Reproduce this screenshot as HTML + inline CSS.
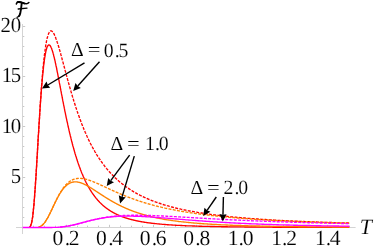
<!DOCTYPE html>
<html><head><meta charset="utf-8"><title>plot</title>
<style>
html,body{margin:0;padding:0;background:#fff;}
body{width:374px;height:251px;overflow:hidden;}
svg{display:block;will-change:transform;}
text{font-family:"Liberation Serif",serif;fill:#000;text-rendering:geometricPrecision;stroke:#fff;stroke-width:0.12px;paint-order:fill stroke;}
</style></head><body>
<svg width="374" height="251" viewBox="0 0 374 251">
<rect width="374" height="251" fill="#fff"/>
<g stroke="#d4d4d4" stroke-width="1" fill="none"><line x1="16" y1="227.5" x2="355.6" y2="227.5"/><line x1="22.5" y1="24" x2="22.5" y2="234"/></g><g stroke="#c8c8c8" stroke-width="1" fill="none"><line x1="33.50" y1="227" x2="33.50" y2="225.70"/><line x1="44.50" y1="227" x2="44.50" y2="225.70"/><line x1="55.50" y1="227" x2="55.50" y2="225.70"/><line x1="66.50" y1="227" x2="66.50" y2="224.80"/><line x1="77.50" y1="227" x2="77.50" y2="225.70"/><line x1="87.50" y1="227" x2="87.50" y2="225.70"/><line x1="98.50" y1="227" x2="98.50" y2="225.70"/><line x1="109.50" y1="227" x2="109.50" y2="224.80"/><line x1="120.50" y1="227" x2="120.50" y2="225.70"/><line x1="131.50" y1="227" x2="131.50" y2="225.70"/><line x1="142.50" y1="227" x2="142.50" y2="225.70"/><line x1="153.50" y1="227" x2="153.50" y2="224.80"/><line x1="164.50" y1="227" x2="164.50" y2="225.70"/><line x1="175.50" y1="227" x2="175.50" y2="225.70"/><line x1="185.50" y1="227" x2="185.50" y2="225.70"/><line x1="196.50" y1="227" x2="196.50" y2="224.80"/><line x1="207.50" y1="227" x2="207.50" y2="225.70"/><line x1="218.50" y1="227" x2="218.50" y2="225.70"/><line x1="229.50" y1="227" x2="229.50" y2="225.70"/><line x1="240.50" y1="227" x2="240.50" y2="224.80"/><line x1="251.50" y1="227" x2="251.50" y2="225.70"/><line x1="262.50" y1="227" x2="262.50" y2="225.70"/><line x1="273.50" y1="227" x2="273.50" y2="225.70"/><line x1="283.50" y1="227" x2="283.50" y2="224.80"/><line x1="294.50" y1="227" x2="294.50" y2="225.70"/><line x1="305.50" y1="227" x2="305.50" y2="225.70"/><line x1="316.50" y1="227" x2="316.50" y2="225.70"/><line x1="327.50" y1="227" x2="327.50" y2="224.80"/><line x1="338.50" y1="227" x2="338.50" y2="225.70"/><line x1="349.50" y1="227" x2="349.50" y2="225.70"/><line x1="23" y1="217.50" x2="24.30" y2="217.50"/><line x1="23" y1="207.50" x2="24.30" y2="207.50"/><line x1="23" y1="197.50" x2="24.30" y2="197.50"/><line x1="23" y1="187.50" x2="24.30" y2="187.50"/><line x1="23" y1="177.50" x2="25.20" y2="177.50"/><line x1="23" y1="167.50" x2="24.30" y2="167.50"/><line x1="23" y1="157.50" x2="24.30" y2="157.50"/><line x1="23" y1="146.50" x2="24.30" y2="146.50"/><line x1="23" y1="136.50" x2="24.30" y2="136.50"/><line x1="23" y1="126.50" x2="25.20" y2="126.50"/><line x1="23" y1="116.50" x2="24.30" y2="116.50"/><line x1="23" y1="106.50" x2="24.30" y2="106.50"/><line x1="23" y1="96.50" x2="24.30" y2="96.50"/><line x1="23" y1="86.50" x2="24.30" y2="86.50"/><line x1="23" y1="76.50" x2="25.20" y2="76.50"/><line x1="23" y1="66.50" x2="24.30" y2="66.50"/><line x1="23" y1="56.50" x2="24.30" y2="56.50"/><line x1="23" y1="46.50" x2="24.30" y2="46.50"/><line x1="23" y1="36.50" x2="24.30" y2="36.50"/><line x1="23" y1="26.50" x2="25.20" y2="26.50"/></g>
<g>
<path d="M29.8,227.0 L30.0,226.7 L30.3,226.3 L30.6,225.9 L30.8,225.3 L31.1,224.6 L31.3,223.7 L31.6,222.7 L31.9,221.4 L32.1,220.0 L32.4,218.4 L32.7,216.6 L32.9,214.5 L33.2,212.2 L33.4,209.7 L33.7,207.0 L34.0,204.1 L34.2,201.0 L34.5,197.7 L34.7,194.3 L35.0,190.6 L35.3,186.9 L35.5,182.9 L35.8,178.9 L36.1,174.7 L36.3,170.5 L36.6,166.2 L36.8,161.8 L37.1,157.4 L37.4,153.0 L37.6,148.5 L37.9,144.1 L38.1,139.6 L38.4,135.2 L38.7,130.9 L38.9,126.5 L39.2,122.3 L39.5,118.1 L39.7,114.0 L40.0,110.0 L40.2,106.1 L40.5,102.3 L40.8,98.5 L41.0,95.0 L41.3,91.5 L41.5,88.1 L41.8,84.9 L42.1,81.8 L42.3,78.8 L42.6,76.0 L42.9,73.3 L43.1,70.7 L43.4,68.3 L43.6,65.9 L43.9,63.8 L44.2,61.7 L44.4,59.8 L44.7,58.0 L45.0,56.3 L45.2,54.8 L45.5,53.4 L45.7,52.1 L46.0,50.9 L46.3,49.9 L46.5,48.9 L46.8,48.1 L47.0,47.3 L47.3,46.7 L47.6,46.2 L47.8,45.8 L48.1,45.4 L48.4,45.2 L48.6,45.0 L48.9,44.9 L49.1,45.0 L49.4,45.1 L49.7,45.2 L49.9,45.5 L50.2,45.8 L50.4,46.2 L50.7,46.6 L51.0,47.1 L51.2,47.7 L51.5,48.3 L51.8,49.0 L52.0,49.7 L52.3,50.5 L52.5,51.3 L52.8,52.2 L53.1,53.1 L53.3,54.0 L53.6,55.0 L53.8,56.0 L54.1,57.1 L54.4,58.2 L54.6,59.3 L54.9,60.4 L55.2,61.6 L55.4,62.8 L55.7,64.0 L55.9,65.2 L56.2,66.5 L56.5,67.7 L56.7,69.0 L57.0,70.3 L57.2,71.6 L57.5,72.9 L57.8,74.3 L58.0,75.6 L58.3,77.0 L58.6,78.3 L58.8,79.7 L59.1,81.0 L59.3,82.4 L59.6,83.8 L59.9,85.2 L60.1,86.5 L60.4,87.9 L60.7,89.3 L60.9,90.7 L61.2,92.0 L61.4,93.4 L61.7,94.8 L62.0,96.1 L62.2,97.5 L62.5,98.9 L62.7,100.2 L63.0,101.6 L63.3,102.9 L63.5,104.2 L63.8,105.6 L64.1,106.9 L64.3,108.2 L64.6,109.5 L64.8,110.8 L65.1,112.1 L65.4,113.3 L65.6,114.6 L65.9,115.9 L66.1,117.1 L66.4,118.4 L66.7,119.6 L66.9,120.8 L67.2,122.0 L67.5,123.2 L67.7,124.4 L68.0,125.6 L68.2,126.8 L68.5,127.9 L68.8,129.1 L69.0,130.2 L69.3,131.3 L69.5,132.5 L69.8,133.6 L70.1,134.7 L70.3,135.7 L70.6,136.8 L70.9,137.9 L71.1,138.9 L71.4,140.0 L71.6,141.0 L71.9,142.0 L72.2,143.0 L72.4,144.0 L72.7,145.0 L72.9,146.0 L73.2,146.9 L73.5,147.9 L73.7,148.8 L74.0,149.7 L74.3,150.7 L74.5,151.6 L74.8,152.5 L75.0,153.4 L75.3,154.2 L75.6,155.1 L75.8,156.0 L76.1,156.8 L76.4,157.6 L76.6,158.5 L76.9,159.3 L77.1,160.1 L77.4,160.9 L77.7,161.7 L77.9,162.5 L78.2,163.2 L78.4,164.0 L78.7,164.7 L79.0,165.5 L79.2,166.2 L79.5,166.9 L79.8,167.6 L80.0,168.4 L80.3,169.0 L80.5,169.7 L80.8,170.4 L81.1,171.1 L81.3,171.7 L81.6,172.4 L81.8,173.0 L82.1,173.7 L82.4,174.3 L82.6,174.9 L82.9,175.5 L83.2,176.2 L83.4,176.7 L83.7,177.3 L83.9,177.9 L84.2,178.5 L84.5,179.1 L84.7,179.6 L85.0,180.2 L85.2,180.7 L85.5,181.3 L85.8,181.8 L86.0,182.3 L86.3,182.8 L86.6,183.4 L86.8,183.9 L87.1,184.4 L87.3,184.9 L87.6,185.3 L87.9,185.8 L88.1,186.3 L88.4,186.8 L88.6,187.2 L88.9,187.7 L89.2,188.1 L89.4,188.6 L89.7,189.0 L90.0,189.5 L90.2,189.9 L90.5,190.3 L90.7,190.7 L91.0,191.1 L91.3,191.6 L91.5,192.0 L91.8,192.3 L92.1,192.7 L92.3,193.1 L92.6,193.5 L92.8,193.9 L93.1,194.3 L93.4,194.6 L93.6,195.0 L93.9,195.3 L94.1,195.7 L94.4,196.1 L94.7,196.4 L94.9,196.7 L95.2,197.1 L95.5,197.4 L95.7,197.7 L96.0,198.1 L96.2,198.4 L96.5,198.7 L96.8,199.0 L97.0,199.3 L97.3,199.6 L97.5,199.9 L97.8,200.2 L98.1,200.5 L98.3,200.8 L98.6,201.1 L98.9,201.4 L99.1,201.6 L99.4,201.9 L99.6,202.2 L99.9,202.5 L100.2,202.7 L100.4,203.0 L100.7,203.2 L100.9,203.5 L101.2,203.7 L101.5,204.0 L101.7,204.2 L102.0,204.5 L102.3,204.7 L102.5,205.0 L102.8,205.2 L103.0,205.4 L103.3,205.7 L103.6,205.9 L103.8,206.1 L104.1,206.3 L104.3,206.5 L104.6,206.8 L104.9,207.0 L105.1,207.2 L105.4,207.4 L105.7,207.6 L105.9,207.8 L106.2,208.0 L106.4,208.2 L106.7,208.4 L107.0,208.6 L107.2,208.8 L107.5,209.0 L107.8,209.1 L108.0,209.3 L108.3,209.5 L108.5,209.7 L108.8,209.9 L109.1,210.0 L109.3,210.2 L109.6,210.4 L109.8,210.6 L110.1,210.7 L110.4,210.9 L110.6,211.1 L110.9,211.2 L111.2,211.4 L111.4,211.5 L111.7,211.7 L111.9,211.8 L112.2,212.0 L112.5,212.1 L112.7,212.3 L113.0,212.4 L113.2,212.6 L113.5,212.7 L113.8,212.9 L114.0,213.0 L114.3,213.1 L114.6,213.3 L114.8,213.4 L115.1,213.6 L115.3,213.7 L115.6,213.8 L115.9,213.9 L116.1,214.1 L116.4,214.2 L116.6,214.3 L116.9,214.5 L117.2,214.6 L117.4,214.7 L117.7,214.8 L118.0,214.9 L118.2,215.0 L118.5,215.2 L118.7,215.3 L119.0,215.4 L119.3,215.5 L119.5,215.6 L119.8,215.7 L120.0,215.8 L120.3,215.9 L120.6,216.0 L120.8,216.2 L121.1,216.3 L121.4,216.4 L121.6,216.5 L121.9,216.6 L122.1,216.7 L122.4,216.8 L122.7,216.9 L122.9,216.9 L123.2,217.0 L123.5,217.1 L123.7,217.2 L124.0,217.3 L124.2,217.4 L124.5,217.5 L124.8,217.6 L125.0,217.7 L125.3,217.8 L125.5,217.9 L125.8,217.9 L126.1,218.0 L126.3,218.1 L126.6,218.2 L126.9,218.3 L127.1,218.3 L127.4,218.4 L127.6,218.5 L127.9,218.6 L128.2,218.7 L128.4,218.7 L128.7,218.8 L128.9,218.9 L129.2,219.0 L129.5,219.0 L129.7,219.1 L130.0,219.2 L130.3,219.3 L130.5,219.3 L130.8,219.4 L131.0,219.5 L131.3,219.5 L131.6,219.6 L131.8,219.7 L132.1,219.7 L132.3,219.8 L132.6,219.9 L132.9,219.9 L133.1,220.0 L133.4,220.0 L133.7,220.1 L133.9,220.2 L134.2,220.2 L134.4,220.3 L134.7,220.4 L135.0,220.4 L135.2,220.5 L135.5,220.5 L135.7,220.6 L136.0,220.6 L136.3,220.7 L136.5,220.8 L136.8,220.8 L137.1,220.9 L137.3,220.9 L137.6,221.0 L137.8,221.0 L138.1,221.1 L138.4,221.1 L138.6,221.2 L138.9,221.2 L139.2,221.3 L139.4,221.3 L139.7,221.4 L139.9,221.4 L140.2,221.5 L140.5,221.5 L140.7,221.6 L141.0,221.6 L141.2,221.7 L141.5,221.7 L141.8,221.8 L142.0,221.8 L142.3,221.9 L142.6,221.9 L142.8,221.9 L143.1,222.0 L143.3,222.0 L143.6,222.1 L143.9,222.1 L144.1,222.2 L144.4,222.2 L144.6,222.2 L144.9,222.3 L145.2,222.3 L145.4,222.4 L145.7,222.4 L146.0,222.4 L146.2,222.5 L146.5,222.5 L146.7,222.6 L147.0,222.6 L147.3,222.6 L147.5,222.7 L147.8,222.7 L148.0,222.7 L148.3,222.8 L148.6,222.8 L148.8,222.8 L149.1,222.9 L149.4,222.9 L149.6,222.9 L149.9,223.0 L150.1,223.0 L150.4,223.0 L150.7,223.1 L150.9,223.1 L151.2,223.1 L151.4,223.2 L151.7,223.2 L152.0,223.2 L152.2,223.3 L152.5,223.3 L152.8,223.3 L153.0,223.4 L153.3,223.4 L154.3,223.5 L155.3,223.6 L156.2,223.7 L157.2,223.8 L158.2,223.9 L159.2,224.0 L160.2,224.1 L161.2,224.2 L162.1,224.3 L163.1,224.4 L164.1,224.4 L165.1,224.5 L166.1,224.6 L167.1,224.7 L168.1,224.7 L169.0,224.8 L170.0,224.9 L171.0,224.9 L172.0,225.0 L173.0,225.1 L174.0,225.1 L175.0,225.2 L175.9,225.2 L176.9,225.3 L177.9,225.3 L178.9,225.4 L179.9,225.4 L180.9,225.5 L181.8,225.5 L182.8,225.6 L183.8,225.6 L184.8,225.7 L185.8,225.7 L186.8,225.8 L187.8,225.8 L188.7,225.8 L189.7,225.9 L190.7,225.9 L191.7,225.9 L192.7,226.0 L193.7,226.0 L194.7,226.0 L195.6,226.1 L196.6,226.1 L197.6,226.1 L198.6,226.2 L199.6,226.2 L200.6,226.2 L201.5,226.2 L202.5,226.3 L203.5,226.3 L204.5,226.3 L205.5,226.3 L206.5,226.4 L207.5,226.4 L208.4,226.4 L209.4,226.4 L210.4,226.5 L211.4,226.5 L212.4,226.5 L213.4,226.5 L214.4,226.5 L215.3,226.6 L216.3,226.6 L217.3,226.6 L218.3,226.6 L219.3,226.6 L220.3,226.6 L221.2,226.7 L222.2,226.7 L223.2,226.7 L224.2,226.7 L225.2,226.7 L226.2,226.7 L227.2,226.7 L228.1,226.8 L229.1,226.8 L230.1,226.8 L231.1,226.8 L232.1,226.8 L233.1,226.8 L234.1,226.8 L235.0,226.8 L236.0,226.9 L237.0,226.9 L238.0,226.9 L239.0,226.9 L240.0,226.9 L240.9,226.9 L241.9,226.9 L242.9,226.9 L243.9,226.9 L244.9,227.0 L245.9,227.0 L246.9,227.0 L247.8,227.0 L248.8,227.0 L249.8,227.0 L250.8,227.0 L251.8,227.0 L252.8,227.0 L253.8,227.0 L254.7,227.0 L255.7,227.0 L256.7,227.1 L257.7,227.1 L258.7,227.1 L259.7,227.1 L260.6,227.1 L261.6,227.1 L262.6,227.1 L263.6,227.1 L264.6,227.1 L265.6,227.1 L266.6,227.1 L267.5,227.1 L268.5,227.1 L269.5,227.1 L270.5,227.1 L271.5,227.1 L272.5,227.2 L273.5,227.2 L274.4,227.2 L275.4,227.2 L276.4,227.2 L277.4,227.2 L278.4,227.2 L279.4,227.2 L280.3,227.2 L281.3,227.2 L282.3,227.2 L283.3,227.2 L284.3,227.2 L285.3,227.2 L286.3,227.2 L287.2,227.2 L288.2,227.2 L289.2,227.2 L290.2,227.2 L291.2,227.2 L292.2,227.2 L293.2,227.2 L294.1,227.2 L295.1,227.3 L296.1,227.3 L297.1,227.3 L298.1,227.3 L299.1,227.3 L300.0,227.3 L301.0,227.3 L302.0,227.3 L303.0,227.3 L304.0,227.3 L305.0,227.3 L306.0,227.3 L306.9,227.3 L307.9,227.3 L308.9,227.3 L309.9,227.3 L310.9,227.3 L311.9,227.3 L312.9,227.3 L313.8,227.3 L314.8,227.3 L315.8,227.3 L316.8,227.3 L317.8,227.3 L318.8,227.3 L319.7,227.3 L320.7,227.3 L321.7,227.3 L322.7,227.3 L323.7,227.3 L324.7,227.3 L325.7,227.3 L326.6,227.3 L327.6,227.3 L328.6,227.3 L329.6,227.3 L330.6,227.3 L331.6,227.3 L332.6,227.4 L333.5,227.4 L334.5,227.4 L335.5,227.4 L336.5,227.4 L337.5,227.4 L338.5,227.4 L339.4,227.4 L340.4,227.4 L341.4,227.4 L342.4,227.4 L343.4,227.4 L344.4,227.4 L345.4,227.4 L346.3,227.4 L347.3,227.4 L348.3,227.4 L349.3,227.4" fill="none" stroke="#ff0000" stroke-width="1.35" stroke-linejoin="round"/>
<path d="M29.8,227.0 L30.0,226.7 L30.3,226.3 L30.6,225.9 L30.8,225.3 L31.1,224.6 L31.3,223.7 L31.6,222.7 L31.9,221.4 L32.1,220.0 L32.4,218.4 L32.7,216.6 L32.9,214.5 L33.2,212.2 L33.4,209.7 L33.7,207.0 L34.0,204.1 L34.2,201.0 L34.5,197.7 L34.7,194.3 L35.0,190.6 L35.3,186.8 L35.5,182.9 L35.8,178.8 L36.1,174.7 L36.3,170.4 L36.6,166.1 L36.8,161.7 L37.1,157.3 L37.4,152.8 L37.6,148.3 L37.9,143.8 L38.1,139.3 L38.4,134.9 L38.7,130.4 L38.9,126.0 L39.2,121.7 L39.5,117.4 L39.7,113.2 L40.0,109.1 L40.2,105.1 L40.5,101.1 L40.8,97.3 L41.0,93.5 L41.3,89.9 L41.5,86.3 L41.8,82.9 L42.1,79.6 L42.3,76.4 L42.6,73.3 L42.9,70.4 L43.1,67.6 L43.4,64.8 L43.6,62.2 L43.9,59.8 L44.2,57.4 L44.4,55.2 L44.7,53.0 L45.0,51.0 L45.2,49.1 L45.5,47.3 L45.7,45.6 L46.0,44.1 L46.3,42.6 L46.5,41.2 L46.8,39.9 L47.0,38.8 L47.3,37.7 L47.6,36.7 L47.8,35.8 L48.1,35.0 L48.4,34.2 L48.6,33.6 L48.9,33.0 L49.1,32.5 L49.4,32.1 L49.7,31.7 L49.9,31.4 L50.2,31.2 L50.4,31.0 L50.7,30.9 L51.0,30.9 L51.2,30.9 L51.5,31.0 L51.8,31.1 L52.0,31.3 L52.3,31.5 L52.5,31.7 L52.8,32.0 L53.1,32.4 L53.3,32.8 L53.6,33.2 L53.8,33.7 L54.1,34.2 L54.4,34.7 L54.6,35.2 L54.9,35.8 L55.2,36.5 L55.4,37.1 L55.7,37.8 L55.9,38.5 L56.2,39.2 L56.5,39.9 L56.7,40.7 L57.0,41.4 L57.2,42.2 L57.5,43.0 L57.8,43.9 L58.0,44.7 L58.3,45.6 L58.6,46.4 L58.8,47.3 L59.1,48.2 L59.3,49.1 L59.6,50.0 L59.9,50.9 L60.1,51.9 L60.4,52.8 L60.7,53.7 L60.9,54.7 L61.2,55.6 L61.4,56.6 L61.7,57.6 L62.0,58.5 L62.2,59.5 L62.5,60.5 L62.7,61.5 L63.0,62.4 L63.3,63.4 L63.5,64.4 L63.8,65.4 L64.1,66.3 L64.3,67.3 L64.6,68.3 L64.8,69.3 L65.1,70.3 L65.4,71.2 L65.6,72.2 L65.9,73.2 L66.1,74.2 L66.4,75.1 L66.7,76.1 L66.9,77.1 L67.2,78.0 L67.5,79.0 L67.7,79.9 L68.0,80.9 L68.2,81.8 L68.5,82.8 L68.8,83.7 L69.0,84.6 L69.3,85.6 L69.5,86.5 L69.8,87.4 L70.1,88.3 L70.3,89.2 L70.6,90.1 L70.9,91.0 L71.1,91.9 L71.4,92.8 L71.6,93.7 L71.9,94.6 L72.2,95.5 L72.4,96.4 L72.7,97.2 L72.9,98.1 L73.2,98.9 L73.5,99.8 L73.7,100.6 L74.0,101.5 L74.3,102.3 L74.5,103.1 L74.8,103.9 L75.0,104.8 L75.3,105.6 L75.6,106.4 L75.8,107.2 L76.1,108.0 L76.4,108.8 L76.6,109.5 L76.9,110.3 L77.1,111.1 L77.4,111.9 L77.7,112.6 L77.9,113.4 L78.2,114.1 L78.4,114.9 L78.7,115.6 L79.0,116.3 L79.2,117.1 L79.5,117.8 L79.8,118.5 L80.0,119.2 L80.3,119.9 L80.5,120.6 L80.8,121.3 L81.1,122.0 L81.3,122.7 L81.6,123.4 L81.8,124.0 L82.1,124.7 L82.4,125.4 L82.6,126.0 L82.9,126.7 L83.2,127.3 L83.4,128.0 L83.7,128.6 L83.9,129.2 L84.2,129.8 L84.5,130.5 L84.7,131.1 L85.0,131.7 L85.2,132.3 L85.5,132.9 L85.8,133.5 L86.0,134.1 L86.3,134.7 L86.6,135.3 L86.8,135.8 L87.1,136.4 L87.3,137.0 L87.6,137.6 L87.9,138.1 L88.1,138.7 L88.4,139.2 L88.6,139.8 L88.9,140.3 L89.2,140.8 L89.4,141.4 L89.7,141.9 L90.0,142.4 L90.2,143.0 L90.5,143.5 L90.7,144.0 L91.0,144.5 L91.3,145.0 L91.5,145.5 L91.8,146.0 L92.1,146.5 L92.3,147.0 L92.6,147.5 L92.8,147.9 L93.1,148.4 L93.4,148.9 L93.6,149.4 L93.9,149.8 L94.1,150.3 L94.4,150.7 L94.7,151.2 L94.9,151.6 L95.2,152.1 L95.5,152.5 L95.7,153.0 L96.0,153.4 L96.2,153.8 L96.5,154.3 L96.8,154.7 L97.0,155.1 L97.3,155.5 L97.5,156.0 L97.8,156.4 L98.1,156.8 L98.3,157.2 L98.6,157.6 L98.9,158.0 L99.1,158.4 L99.4,158.8 L99.6,159.2 L99.9,159.6 L100.2,159.9 L100.4,160.3 L100.7,160.7 L100.9,161.1 L101.2,161.5 L101.5,161.8 L101.7,162.2 L102.0,162.6 L102.3,162.9 L102.5,163.3 L102.8,163.6 L103.0,164.0 L103.3,164.3 L103.6,164.7 L103.8,165.0 L104.1,165.4 L104.3,165.7 L104.6,166.1 L104.9,166.4 L105.1,166.7 L105.4,167.0 L105.7,167.4 L105.9,167.7 L106.2,168.0 L106.4,168.3 L106.7,168.7 L107.0,169.0 L107.2,169.3 L107.5,169.6 L107.8,169.9 L108.0,170.2 L108.3,170.5 L108.5,170.8 L108.8,171.1 L109.1,171.4 L109.3,171.7 L109.6,172.0 L109.8,172.3 L110.1,172.6 L110.4,172.9 L110.6,173.1 L110.9,173.4 L111.2,173.7 L111.4,174.0 L111.7,174.3 L111.9,174.5 L112.2,174.8 L112.5,175.1 L112.7,175.3 L113.0,175.6 L113.2,175.9 L113.5,176.1 L113.8,176.4 L114.0,176.7 L114.3,176.9 L114.6,177.2 L114.8,177.4 L115.1,177.7 L115.3,177.9 L115.6,178.2 L115.9,178.4 L116.1,178.7 L116.4,178.9 L116.6,179.1 L116.9,179.4 L117.2,179.6 L117.4,179.9 L117.7,180.1 L118.0,180.3 L118.2,180.6 L118.5,180.8 L118.7,181.0 L119.0,181.2 L119.3,181.5 L119.5,181.7 L119.8,181.9 L120.0,182.1 L120.3,182.3 L120.6,182.6 L120.8,182.8 L121.1,183.0 L121.4,183.2 L121.6,183.4 L121.9,183.6 L122.1,183.8 L122.4,184.0 L122.7,184.2 L122.9,184.4 L123.2,184.6 L123.5,184.8 L123.7,185.0 L124.0,185.2 L124.2,185.4 L124.5,185.6 L124.8,185.8 L125.0,186.0 L125.3,186.2 L125.5,186.4 L125.8,186.6 L126.1,186.8 L126.3,187.0 L126.6,187.2 L126.9,187.3 L127.1,187.5 L127.4,187.7 L127.6,187.9 L127.9,188.1 L128.2,188.2 L128.4,188.4 L128.7,188.6 L128.9,188.8 L129.2,188.9 L129.5,189.1 L129.7,189.3 L130.0,189.5 L130.3,189.6 L130.5,189.8 L130.8,190.0 L131.0,190.1 L131.3,190.3 L131.6,190.5 L131.8,190.6 L132.1,190.8 L132.3,190.9 L132.6,191.1 L132.9,191.3 L133.1,191.4 L133.4,191.6 L133.7,191.7 L133.9,191.9 L134.2,192.0 L134.4,192.2 L134.7,192.3 L135.0,192.5 L135.2,192.6 L135.5,192.8 L135.7,192.9 L136.0,193.1 L136.3,193.2 L136.5,193.4 L136.8,193.5 L137.1,193.7 L137.3,193.8 L137.6,194.0 L137.8,194.1 L138.1,194.2 L138.4,194.4 L138.6,194.5 L138.9,194.6 L139.2,194.8 L139.4,194.9 L139.7,195.1 L139.9,195.2 L140.2,195.3 L140.5,195.5 L140.7,195.6 L141.0,195.7 L141.2,195.8 L141.5,196.0 L141.8,196.1 L142.0,196.2 L142.3,196.4 L142.6,196.5 L142.8,196.6 L143.1,196.7 L143.3,196.9 L143.6,197.0 L143.9,197.1 L144.1,197.2 L144.4,197.4 L144.6,197.5 L144.9,197.6 L145.2,197.7 L145.4,197.8 L145.7,198.0 L146.0,198.1 L146.2,198.2 L146.5,198.3 L146.7,198.4 L147.0,198.5 L147.3,198.6 L147.5,198.8 L147.8,198.9 L148.0,199.0 L148.3,199.1 L148.6,199.2 L148.8,199.3 L149.1,199.4 L149.4,199.5 L149.6,199.6 L149.9,199.7 L150.1,199.9 L150.4,200.0 L150.7,200.1 L150.9,200.2 L151.2,200.3 L151.4,200.4 L151.7,200.5 L152.0,200.6 L152.2,200.7 L152.5,200.8 L152.8,200.9 L153.0,201.0 L153.3,201.1 L154.3,201.5 L155.3,201.8 L156.2,202.2 L157.2,202.5 L158.2,202.9 L159.2,203.2 L160.2,203.5 L161.2,203.9 L162.1,204.2 L163.1,204.5 L164.1,204.8 L165.1,205.1 L166.1,205.4 L167.1,205.7 L168.1,205.9 L169.0,206.2 L170.0,206.5 L171.0,206.8 L172.0,207.0 L173.0,207.3 L174.0,207.5 L175.0,207.8 L175.9,208.0 L176.9,208.3 L177.9,208.5 L178.9,208.7 L179.9,208.9 L180.9,209.2 L181.8,209.4 L182.8,209.6 L183.8,209.8 L184.8,210.0 L185.8,210.2 L186.8,210.4 L187.8,210.6 L188.7,210.8 L189.7,211.0 L190.7,211.2 L191.7,211.4 L192.7,211.5 L193.7,211.7 L194.7,211.9 L195.6,212.1 L196.6,212.2 L197.6,212.4 L198.6,212.6 L199.6,212.7 L200.6,212.9 L201.5,213.0 L202.5,213.2 L203.5,213.3 L204.5,213.5 L205.5,213.6 L206.5,213.8 L207.5,213.9 L208.4,214.1 L209.4,214.2 L210.4,214.3 L211.4,214.5 L212.4,214.6 L213.4,214.7 L214.4,214.9 L215.3,215.0 L216.3,215.1 L217.3,215.2 L218.3,215.3 L219.3,215.5 L220.3,215.6 L221.2,215.7 L222.2,215.8 L223.2,215.9 L224.2,216.0 L225.2,216.1 L226.2,216.2 L227.2,216.3 L228.1,216.5 L229.1,216.6 L230.1,216.7 L231.1,216.8 L232.1,216.9 L233.1,217.0 L234.1,217.0 L235.0,217.1 L236.0,217.2 L237.0,217.3 L238.0,217.4 L239.0,217.5 L240.0,217.6 L240.9,217.7 L241.9,217.8 L242.9,217.9 L243.9,217.9 L244.9,218.0 L245.9,218.1 L246.9,218.2 L247.8,218.3 L248.8,218.3 L249.8,218.4 L250.8,218.5 L251.8,218.6 L252.8,218.6 L253.8,218.7 L254.7,218.8 L255.7,218.9 L256.7,218.9 L257.7,219.0 L258.7,219.1 L259.7,219.1 L260.6,219.2 L261.6,219.3 L262.6,219.3 L263.6,219.4 L264.6,219.5 L265.6,219.5 L266.6,219.6 L267.5,219.7 L268.5,219.7 L269.5,219.8 L270.5,219.9 L271.5,219.9 L272.5,220.0 L273.5,220.0 L274.4,220.1 L275.4,220.1 L276.4,220.2 L277.4,220.3 L278.4,220.3 L279.4,220.4 L280.3,220.4 L281.3,220.5 L282.3,220.5 L283.3,220.6 L284.3,220.6 L285.3,220.7 L286.3,220.7 L287.2,220.8 L288.2,220.8 L289.2,220.9 L290.2,220.9 L291.2,221.0 L292.2,221.0 L293.2,221.1 L294.1,221.1 L295.1,221.2 L296.1,221.2 L297.1,221.2 L298.1,221.3 L299.1,221.3 L300.0,221.4 L301.0,221.4 L302.0,221.5 L303.0,221.5 L304.0,221.5 L305.0,221.6 L306.0,221.6 L306.9,221.7 L307.9,221.7 L308.9,221.7 L309.9,221.8 L310.9,221.8 L311.9,221.9 L312.9,221.9 L313.8,221.9 L314.8,222.0 L315.8,222.0 L316.8,222.0 L317.8,222.1 L318.8,222.1 L319.7,222.2 L320.7,222.2 L321.7,222.2 L322.7,222.3 L323.7,222.3 L324.7,222.3 L325.7,222.4 L326.6,222.4 L327.6,222.4 L328.6,222.5 L329.6,222.5 L330.6,222.5 L331.6,222.5 L332.6,222.6 L333.5,222.6 L334.5,222.6 L335.5,222.7 L336.5,222.7 L337.5,222.7 L338.5,222.8 L339.4,222.8 L340.4,222.8 L341.4,222.8 L342.4,222.9 L343.4,222.9 L344.4,222.9 L345.4,223.0 L346.3,223.0 L347.3,223.0 L348.3,223.0 L349.3,223.1" fill="none" stroke="#ff0000" stroke-width="1.35" stroke-dasharray="3 1.3" stroke-dashoffset="0" stroke-linejoin="round"/>
<path d="M38.7,227.1 L38.9,227.0 L39.2,226.9 L39.5,226.8 L39.7,226.7 L40.0,226.6 L40.2,226.5 L40.5,226.4 L40.8,226.2 L41.0,226.1 L41.3,225.9 L41.5,225.7 L41.8,225.5 L42.1,225.3 L42.3,225.1 L42.6,224.9 L42.9,224.6 L43.1,224.4 L43.4,224.1 L43.6,223.8 L43.9,223.5 L44.2,223.2 L44.4,222.9 L44.7,222.5 L45.0,222.2 L45.2,221.8 L45.5,221.4 L45.7,221.0 L46.0,220.6 L46.3,220.2 L46.5,219.8 L46.8,219.4 L47.0,218.9 L47.3,218.5 L47.6,218.0 L47.8,217.5 L48.1,217.1 L48.4,216.6 L48.6,216.1 L48.9,215.6 L49.1,215.0 L49.4,214.5 L49.7,214.0 L49.9,213.5 L50.2,212.9 L50.4,212.4 L50.7,211.9 L51.0,211.3 L51.2,210.8 L51.5,210.2 L51.8,209.7 L52.0,209.1 L52.3,208.5 L52.5,208.0 L52.8,207.4 L53.1,206.9 L53.3,206.3 L53.6,205.8 L53.8,205.2 L54.1,204.7 L54.4,204.1 L54.6,203.6 L54.9,203.0 L55.2,202.5 L55.4,201.9 L55.7,201.4 L55.9,200.9 L56.2,200.4 L56.5,199.9 L56.7,199.3 L57.0,198.8 L57.2,198.3 L57.5,197.8 L57.8,197.3 L58.0,196.9 L58.3,196.4 L58.6,195.9 L58.8,195.5 L59.1,195.0 L59.3,194.5 L59.6,194.1 L59.9,193.7 L60.1,193.2 L60.4,192.8 L60.7,192.4 L60.9,192.0 L61.2,191.6 L61.4,191.2 L61.7,190.9 L62.0,190.5 L62.2,190.1 L62.5,189.8 L62.7,189.4 L63.0,189.1 L63.3,188.8 L63.5,188.4 L63.8,188.1 L64.1,187.8 L64.3,187.5 L64.6,187.2 L64.8,186.9 L65.1,186.7 L65.4,186.4 L65.6,186.2 L65.9,185.9 L66.1,185.7 L66.4,185.4 L66.7,185.2 L66.9,185.0 L67.2,184.8 L67.5,184.6 L67.7,184.4 L68.0,184.2 L68.2,184.0 L68.5,183.9 L68.8,183.7 L69.0,183.6 L69.3,183.4 L69.5,183.3 L69.8,183.1 L70.1,183.0 L70.3,182.9 L70.6,182.8 L70.9,182.7 L71.1,182.6 L71.4,182.5 L71.6,182.4 L71.9,182.3 L72.2,182.3 L72.4,182.2 L72.7,182.1 L72.9,182.1 L73.2,182.0 L73.5,182.0 L73.7,182.0 L74.0,181.9 L74.3,181.9 L74.5,181.9 L74.8,181.9 L75.0,181.9 L75.3,181.9 L75.6,181.9 L75.8,181.9 L76.1,181.9 L76.4,181.9 L76.6,181.9 L76.9,181.9 L77.1,182.0 L77.4,182.0 L77.7,182.1 L77.9,182.1 L78.2,182.1 L78.4,182.2 L78.7,182.3 L79.0,182.3 L79.2,182.4 L79.5,182.4 L79.8,182.5 L80.0,182.6 L80.3,182.7 L80.5,182.7 L80.8,182.8 L81.1,182.9 L81.3,183.0 L81.6,183.1 L81.8,183.2 L82.1,183.3 L82.4,183.4 L82.6,183.5 L82.9,183.6 L83.2,183.7 L83.4,183.8 L83.7,184.0 L83.9,184.1 L84.2,184.2 L84.5,184.3 L84.7,184.5 L85.0,184.6 L85.2,184.7 L85.5,184.8 L85.8,185.0 L86.0,185.1 L86.3,185.2 L86.6,185.4 L86.8,185.5 L87.1,185.7 L87.3,185.8 L87.6,186.0 L87.9,186.1 L88.1,186.3 L88.4,186.4 L88.6,186.6 L88.9,186.7 L89.2,186.9 L89.4,187.0 L89.7,187.2 L90.0,187.3 L90.2,187.5 L90.5,187.7 L90.7,187.8 L91.0,188.0 L91.3,188.1 L91.5,188.3 L91.8,188.5 L92.1,188.6 L92.3,188.8 L92.6,189.0 L92.8,189.1 L93.1,189.3 L93.4,189.5 L93.6,189.6 L93.9,189.8 L94.1,190.0 L94.4,190.1 L94.7,190.3 L94.9,190.5 L95.2,190.6 L95.5,190.8 L95.7,191.0 L96.0,191.2 L96.2,191.3 L96.5,191.5 L96.8,191.7 L97.0,191.8 L97.3,192.0 L97.5,192.2 L97.8,192.4 L98.1,192.5 L98.3,192.7 L98.6,192.9 L98.9,193.0 L99.1,193.2 L99.4,193.4 L99.6,193.6 L99.9,193.7 L100.2,193.9 L100.4,194.1 L100.7,194.2 L100.9,194.4 L101.2,194.6 L101.5,194.8 L101.7,194.9 L102.0,195.1 L102.3,195.3 L102.5,195.4 L102.8,195.6 L103.0,195.8 L103.3,195.9 L103.6,196.1 L103.8,196.3 L104.1,196.4 L104.3,196.6 L104.6,196.8 L104.9,196.9 L105.1,197.1 L105.4,197.3 L105.7,197.4 L105.9,197.6 L106.2,197.8 L106.4,197.9 L106.7,198.1 L107.0,198.3 L107.2,198.4 L107.5,198.6 L107.8,198.7 L108.0,198.9 L108.3,199.1 L108.5,199.2 L108.8,199.4 L109.1,199.5 L109.3,199.7 L109.6,199.8 L109.8,200.0 L110.1,200.2 L110.4,200.3 L110.6,200.5 L110.9,200.6 L111.2,200.8 L111.4,200.9 L111.7,201.1 L111.9,201.2 L112.2,201.4 L112.5,201.5 L112.7,201.7 L113.0,201.8 L113.2,202.0 L113.5,202.1 L113.8,202.3 L114.0,202.4 L114.3,202.5 L114.6,202.7 L114.8,202.8 L115.1,203.0 L115.3,203.1 L115.6,203.3 L115.9,203.4 L116.1,203.5 L116.4,203.7 L116.6,203.8 L116.9,204.0 L117.2,204.1 L117.4,204.2 L117.7,204.4 L118.0,204.5 L118.2,204.6 L118.5,204.8 L118.7,204.9 L119.0,205.0 L119.3,205.2 L119.5,205.3 L119.8,205.4 L120.0,205.6 L120.3,205.7 L120.6,205.8 L120.8,205.9 L121.1,206.1 L121.4,206.2 L121.6,206.3 L121.9,206.5 L122.1,206.6 L122.4,206.7 L122.7,206.8 L122.9,206.9 L123.2,207.1 L123.5,207.2 L123.7,207.3 L124.0,207.4 L124.2,207.5 L124.5,207.7 L124.8,207.8 L125.0,207.9 L125.3,208.0 L125.5,208.1 L125.8,208.2 L126.1,208.4 L126.3,208.5 L126.6,208.6 L126.9,208.7 L127.1,208.8 L127.4,208.9 L127.6,209.0 L127.9,209.1 L128.2,209.2 L128.4,209.4 L128.7,209.5 L128.9,209.6 L129.2,209.7 L129.5,209.8 L129.7,209.9 L130.0,210.0 L130.3,210.1 L130.5,210.2 L130.8,210.3 L131.0,210.4 L131.3,210.5 L131.6,210.6 L131.8,210.7 L132.1,210.8 L132.3,210.9 L132.6,211.0 L132.9,211.1 L133.1,211.2 L133.4,211.3 L133.7,211.4 L133.9,211.5 L134.2,211.6 L134.4,211.7 L134.7,211.8 L135.0,211.9 L135.2,212.0 L135.5,212.0 L135.7,212.1 L136.0,212.2 L136.3,212.3 L136.5,212.4 L136.8,212.5 L137.1,212.6 L137.3,212.7 L137.6,212.8 L137.8,212.9 L138.1,212.9 L138.4,213.0 L138.6,213.1 L138.9,213.2 L139.2,213.3 L139.4,213.4 L139.7,213.4 L139.9,213.5 L140.2,213.6 L140.5,213.7 L140.7,213.8 L141.0,213.9 L141.2,213.9 L141.5,214.0 L141.8,214.1 L142.0,214.2 L142.3,214.2 L142.6,214.3 L142.8,214.4 L143.1,214.5 L143.3,214.6 L143.6,214.6 L143.9,214.7 L144.1,214.8 L144.4,214.9 L144.6,214.9 L144.9,215.0 L145.2,215.1 L145.4,215.1 L145.7,215.2 L146.0,215.3 L146.2,215.4 L146.5,215.4 L146.7,215.5 L147.0,215.6 L147.3,215.6 L147.5,215.7 L147.8,215.8 L148.0,215.8 L148.3,215.9 L148.6,216.0 L148.8,216.0 L149.1,216.1 L149.4,216.2 L149.6,216.2 L149.9,216.3 L150.1,216.4 L150.4,216.4 L150.7,216.5 L150.9,216.6 L151.2,216.6 L151.4,216.7 L151.7,216.8 L152.0,216.8 L152.2,216.9 L152.5,216.9 L152.8,217.0 L153.0,217.1 L153.3,217.1 L154.3,217.3 L155.3,217.6 L156.2,217.8 L157.2,218.0 L158.2,218.2 L159.2,218.4 L160.2,218.6 L161.2,218.7 L162.1,218.9 L163.1,219.1 L164.1,219.3 L165.1,219.5 L166.1,219.6 L167.1,219.8 L168.1,219.9 L169.0,220.1 L170.0,220.2 L171.0,220.4 L172.0,220.5 L173.0,220.7 L174.0,220.8 L175.0,220.9 L175.9,221.1 L176.9,221.2 L177.9,221.3 L178.9,221.5 L179.9,221.6 L180.9,221.7 L181.8,221.8 L182.8,221.9 L183.8,222.0 L184.8,222.1 L185.8,222.2 L186.8,222.3 L187.8,222.4 L188.7,222.5 L189.7,222.6 L190.7,222.7 L191.7,222.8 L192.7,222.9 L193.7,223.0 L194.7,223.1 L195.6,223.1 L196.6,223.2 L197.6,223.3 L198.6,223.4 L199.6,223.5 L200.6,223.5 L201.5,223.6 L202.5,223.7 L203.5,223.7 L204.5,223.8 L205.5,223.9 L206.5,223.9 L207.5,224.0 L208.4,224.1 L209.4,224.1 L210.4,224.2 L211.4,224.2 L212.4,224.3 L213.4,224.4 L214.4,224.4 L215.3,224.5 L216.3,224.5 L217.3,224.6 L218.3,224.6 L219.3,224.7 L220.3,224.7 L221.2,224.8 L222.2,224.8 L223.2,224.9 L224.2,224.9 L225.2,224.9 L226.2,225.0 L227.2,225.0 L228.1,225.1 L229.1,225.1 L230.1,225.2 L231.1,225.2 L232.1,225.2 L233.1,225.3 L234.1,225.3 L235.0,225.3 L236.0,225.4 L237.0,225.4 L238.0,225.4 L239.0,225.5 L240.0,225.5 L240.9,225.5 L241.9,225.6 L242.9,225.6 L243.9,225.6 L244.9,225.7 L245.9,225.7 L246.9,225.7 L247.8,225.7 L248.8,225.8 L249.8,225.8 L250.8,225.8 L251.8,225.8 L252.8,225.9 L253.8,225.9 L254.7,225.9 L255.7,225.9 L256.7,226.0 L257.7,226.0 L258.7,226.0 L259.7,226.0 L260.6,226.1 L261.6,226.1 L262.6,226.1 L263.6,226.1 L264.6,226.1 L265.6,226.2 L266.6,226.2 L267.5,226.2 L268.5,226.2 L269.5,226.2 L270.5,226.3 L271.5,226.3 L272.5,226.3 L273.5,226.3 L274.4,226.3 L275.4,226.3 L276.4,226.4 L277.4,226.4 L278.4,226.4 L279.4,226.4 L280.3,226.4 L281.3,226.4 L282.3,226.5 L283.3,226.5 L284.3,226.5 L285.3,226.5 L286.3,226.5 L287.2,226.5 L288.2,226.5 L289.2,226.5 L290.2,226.6 L291.2,226.6 L292.2,226.6 L293.2,226.6 L294.1,226.6 L295.1,226.6 L296.1,226.6 L297.1,226.6 L298.1,226.7 L299.1,226.7 L300.0,226.7 L301.0,226.7 L302.0,226.7 L303.0,226.7 L304.0,226.7 L305.0,226.7 L306.0,226.7 L306.9,226.7 L307.9,226.8 L308.9,226.8 L309.9,226.8 L310.9,226.8 L311.9,226.8 L312.9,226.8 L313.8,226.8 L314.8,226.8 L315.8,226.8 L316.8,226.8 L317.8,226.8 L318.8,226.9 L319.7,226.9 L320.7,226.9 L321.7,226.9 L322.7,226.9 L323.7,226.9 L324.7,226.9 L325.7,226.9 L326.6,226.9 L327.6,226.9 L328.6,226.9 L329.6,226.9 L330.6,226.9 L331.6,226.9 L332.6,227.0 L333.5,227.0 L334.5,227.0 L335.5,227.0 L336.5,227.0 L337.5,227.0 L338.5,227.0 L339.4,227.0 L340.4,227.0 L341.4,227.0 L342.4,227.0 L343.4,227.0 L344.4,227.0 L345.4,227.0 L346.3,227.0 L347.3,227.0 L348.3,227.0 L349.3,227.1" fill="none" stroke="#ff8000" stroke-width="1.35" stroke-linejoin="round"/>
<path d="M38.7,227.1 L38.9,227.0 L39.2,226.9 L39.5,226.8 L39.7,226.7 L40.0,226.6 L40.2,226.5 L40.5,226.4 L40.8,226.2 L41.0,226.1 L41.3,225.9 L41.5,225.7 L41.8,225.5 L42.1,225.3 L42.3,225.1 L42.6,224.9 L42.9,224.6 L43.1,224.4 L43.4,224.1 L43.6,223.8 L43.9,223.5 L44.2,223.2 L44.4,222.9 L44.7,222.5 L45.0,222.2 L45.2,221.8 L45.5,221.4 L45.7,221.0 L46.0,220.6 L46.3,220.2 L46.5,219.8 L46.8,219.4 L47.0,218.9 L47.3,218.5 L47.6,218.0 L47.8,217.5 L48.1,217.0 L48.4,216.6 L48.6,216.1 L48.9,215.6 L49.1,215.0 L49.4,214.5 L49.7,214.0 L49.9,213.5 L50.2,212.9 L50.4,212.4 L50.7,211.8 L51.0,211.3 L51.2,210.7 L51.5,210.2 L51.8,209.6 L52.0,209.1 L52.3,208.5 L52.5,207.9 L52.8,207.4 L53.1,206.8 L53.3,206.2 L53.6,205.7 L53.8,205.1 L54.1,204.6 L54.4,204.0 L54.6,203.5 L54.9,202.9 L55.2,202.4 L55.4,201.8 L55.7,201.3 L55.9,200.7 L56.2,200.2 L56.5,199.7 L56.7,199.1 L57.0,198.6 L57.2,198.1 L57.5,197.6 L57.8,197.1 L58.0,196.6 L58.3,196.1 L58.6,195.6 L58.8,195.1 L59.1,194.7 L59.3,194.2 L59.6,193.7 L59.9,193.3 L60.1,192.8 L60.4,192.4 L60.7,192.0 L60.9,191.5 L61.2,191.1 L61.4,190.7 L61.7,190.3 L62.0,189.9 L62.2,189.5 L62.5,189.1 L62.7,188.7 L63.0,188.4 L63.3,188.0 L63.5,187.7 L63.8,187.3 L64.1,187.0 L64.3,186.6 L64.6,186.3 L64.8,186.0 L65.1,185.7 L65.4,185.4 L65.6,185.1 L65.9,184.8 L66.1,184.5 L66.4,184.3 L66.7,184.0 L66.9,183.7 L67.2,183.5 L67.5,183.2 L67.7,183.0 L68.0,182.8 L68.2,182.5 L68.5,182.3 L68.8,182.1 L69.0,181.9 L69.3,181.7 L69.5,181.5 L69.8,181.3 L70.1,181.2 L70.3,181.0 L70.6,180.8 L70.9,180.7 L71.1,180.5 L71.4,180.4 L71.6,180.2 L71.9,180.1 L72.2,180.0 L72.4,179.8 L72.7,179.7 L72.9,179.6 L73.2,179.5 L73.5,179.4 L73.7,179.3 L74.0,179.2 L74.3,179.1 L74.5,179.1 L74.8,179.0 L75.0,178.9 L75.3,178.8 L75.6,178.8 L75.8,178.7 L76.1,178.7 L76.4,178.6 L76.6,178.6 L76.9,178.5 L77.1,178.5 L77.4,178.5 L77.7,178.4 L77.9,178.4 L78.2,178.4 L78.4,178.4 L78.7,178.4 L79.0,178.4 L79.2,178.3 L79.5,178.3 L79.8,178.4 L80.0,178.4 L80.3,178.4 L80.5,178.4 L80.8,178.4 L81.1,178.4 L81.3,178.4 L81.6,178.5 L81.8,178.5 L82.1,178.5 L82.4,178.5 L82.6,178.6 L82.9,178.6 L83.2,178.7 L83.4,178.7 L83.7,178.8 L83.9,178.8 L84.2,178.9 L84.5,178.9 L84.7,179.0 L85.0,179.0 L85.2,179.1 L85.5,179.1 L85.8,179.2 L86.0,179.3 L86.3,179.3 L86.6,179.4 L86.8,179.5 L87.1,179.6 L87.3,179.6 L87.6,179.7 L87.9,179.8 L88.1,179.9 L88.4,179.9 L88.6,180.0 L88.9,180.1 L89.2,180.2 L89.4,180.3 L89.7,180.4 L90.0,180.5 L90.2,180.6 L90.5,180.7 L90.7,180.8 L91.0,180.8 L91.3,180.9 L91.5,181.0 L91.8,181.1 L92.1,181.2 L92.3,181.3 L92.6,181.4 L92.8,181.5 L93.1,181.7 L93.4,181.8 L93.6,181.9 L93.9,182.0 L94.1,182.1 L94.4,182.2 L94.7,182.3 L94.9,182.4 L95.2,182.5 L95.5,182.6 L95.7,182.7 L96.0,182.9 L96.2,183.0 L96.5,183.1 L96.8,183.2 L97.0,183.3 L97.3,183.4 L97.5,183.5 L97.8,183.7 L98.1,183.8 L98.3,183.9 L98.6,184.0 L98.9,184.1 L99.1,184.2 L99.4,184.4 L99.6,184.5 L99.9,184.6 L100.2,184.7 L100.4,184.8 L100.7,185.0 L100.9,185.1 L101.2,185.2 L101.5,185.3 L101.7,185.5 L102.0,185.6 L102.3,185.7 L102.5,185.8 L102.8,185.9 L103.0,186.1 L103.3,186.2 L103.6,186.3 L103.8,186.4 L104.1,186.5 L104.3,186.7 L104.6,186.8 L104.9,186.9 L105.1,187.0 L105.4,187.2 L105.7,187.3 L105.9,187.4 L106.2,187.5 L106.4,187.7 L106.7,187.8 L107.0,187.9 L107.2,188.0 L107.5,188.1 L107.8,188.3 L108.0,188.4 L108.3,188.5 L108.5,188.6 L108.8,188.7 L109.1,188.9 L109.3,189.0 L109.6,189.1 L109.8,189.2 L110.1,189.4 L110.4,189.5 L110.6,189.6 L110.9,189.7 L111.2,189.8 L111.4,190.0 L111.7,190.1 L111.9,190.2 L112.2,190.3 L112.5,190.4 L112.7,190.6 L113.0,190.7 L113.2,190.8 L113.5,190.9 L113.8,191.0 L114.0,191.1 L114.3,191.3 L114.6,191.4 L114.8,191.5 L115.1,191.6 L115.3,191.7 L115.6,191.9 L115.9,192.0 L116.1,192.1 L116.4,192.2 L116.6,192.3 L116.9,192.4 L117.2,192.5 L117.4,192.7 L117.7,192.8 L118.0,192.9 L118.2,193.0 L118.5,193.1 L118.7,193.2 L119.0,193.3 L119.3,193.5 L119.5,193.6 L119.8,193.7 L120.0,193.8 L120.3,193.9 L120.6,194.0 L120.8,194.1 L121.1,194.2 L121.4,194.3 L121.6,194.4 L121.9,194.6 L122.1,194.7 L122.4,194.8 L122.7,194.9 L122.9,195.0 L123.2,195.1 L123.5,195.2 L123.7,195.3 L124.0,195.4 L124.2,195.5 L124.5,195.6 L124.8,195.7 L125.0,195.8 L125.3,195.9 L125.5,196.1 L125.8,196.2 L126.1,196.3 L126.3,196.4 L126.6,196.5 L126.9,196.6 L127.1,196.7 L127.4,196.8 L127.6,196.9 L127.9,197.0 L128.2,197.1 L128.4,197.2 L128.7,197.3 L128.9,197.4 L129.2,197.5 L129.5,197.6 L129.7,197.7 L130.0,197.8 L130.3,197.9 L130.5,198.0 L130.8,198.1 L131.0,198.2 L131.3,198.3 L131.6,198.4 L131.8,198.5 L132.1,198.5 L132.3,198.6 L132.6,198.7 L132.9,198.8 L133.1,198.9 L133.4,199.0 L133.7,199.1 L133.9,199.2 L134.2,199.3 L134.4,199.4 L134.7,199.5 L135.0,199.6 L135.2,199.7 L135.5,199.8 L135.7,199.9 L136.0,199.9 L136.3,200.0 L136.5,200.1 L136.8,200.2 L137.1,200.3 L137.3,200.4 L137.6,200.5 L137.8,200.6 L138.1,200.7 L138.4,200.7 L138.6,200.8 L138.9,200.9 L139.2,201.0 L139.4,201.1 L139.7,201.2 L139.9,201.3 L140.2,201.3 L140.5,201.4 L140.7,201.5 L141.0,201.6 L141.2,201.7 L141.5,201.8 L141.8,201.8 L142.0,201.9 L142.3,202.0 L142.6,202.1 L142.8,202.2 L143.1,202.3 L143.3,202.3 L143.6,202.4 L143.9,202.5 L144.1,202.6 L144.4,202.7 L144.6,202.7 L144.9,202.8 L145.2,202.9 L145.4,203.0 L145.7,203.1 L146.0,203.1 L146.2,203.2 L146.5,203.3 L146.7,203.4 L147.0,203.4 L147.3,203.5 L147.5,203.6 L147.8,203.7 L148.0,203.7 L148.3,203.8 L148.6,203.9 L148.8,204.0 L149.1,204.0 L149.4,204.1 L149.6,204.2 L149.9,204.3 L150.1,204.3 L150.4,204.4 L150.7,204.5 L150.9,204.6 L151.2,204.6 L151.4,204.7 L151.7,204.8 L152.0,204.8 L152.2,204.9 L152.5,205.0 L152.8,205.1 L153.0,205.1 L153.3,205.2 L154.3,205.5 L155.3,205.7 L156.2,206.0 L157.2,206.2 L158.2,206.5 L159.2,206.7 L160.2,206.9 L161.2,207.2 L162.1,207.4 L163.1,207.6 L164.1,207.8 L165.1,208.1 L166.1,208.3 L167.1,208.5 L168.1,208.7 L169.0,208.9 L170.0,209.1 L171.0,209.3 L172.0,209.5 L173.0,209.7 L174.0,209.9 L175.0,210.1 L175.9,210.3 L176.9,210.5 L177.9,210.6 L178.9,210.8 L179.9,211.0 L180.9,211.2 L181.8,211.3 L182.8,211.5 L183.8,211.7 L184.8,211.8 L185.8,212.0 L186.8,212.2 L187.8,212.3 L188.7,212.5 L189.7,212.6 L190.7,212.8 L191.7,212.9 L192.7,213.1 L193.7,213.2 L194.7,213.4 L195.6,213.5 L196.6,213.6 L197.6,213.8 L198.6,213.9 L199.6,214.0 L200.6,214.2 L201.5,214.3 L202.5,214.4 L203.5,214.5 L204.5,214.7 L205.5,214.8 L206.5,214.9 L207.5,215.0 L208.4,215.1 L209.4,215.3 L210.4,215.4 L211.4,215.5 L212.4,215.6 L213.4,215.7 L214.4,215.8 L215.3,215.9 L216.3,216.0 L217.3,216.1 L218.3,216.2 L219.3,216.3 L220.3,216.4 L221.2,216.5 L222.2,216.6 L223.2,216.7 L224.2,216.8 L225.2,216.9 L226.2,217.0 L227.2,217.1 L228.1,217.2 L229.1,217.3 L230.1,217.4 L231.1,217.5 L232.1,217.5 L233.1,217.6 L234.1,217.7 L235.0,217.8 L236.0,217.9 L237.0,218.0 L238.0,218.0 L239.0,218.1 L240.0,218.2 L240.9,218.3 L241.9,218.3 L242.9,218.4 L243.9,218.5 L244.9,218.6 L245.9,218.6 L246.9,218.7 L247.8,218.8 L248.8,218.9 L249.8,218.9 L250.8,219.0 L251.8,219.1 L252.8,219.1 L253.8,219.2 L254.7,219.3 L255.7,219.3 L256.7,219.4 L257.7,219.4 L258.7,219.5 L259.7,219.6 L260.6,219.6 L261.6,219.7 L262.6,219.8 L263.6,219.8 L264.6,219.9 L265.6,219.9 L266.6,220.0 L267.5,220.0 L268.5,220.1 L269.5,220.2 L270.5,220.2 L271.5,220.3 L272.5,220.3 L273.5,220.4 L274.4,220.4 L275.4,220.5 L276.4,220.5 L277.4,220.6 L278.4,220.6 L279.4,220.7 L280.3,220.7 L281.3,220.8 L282.3,220.8 L283.3,220.9 L284.3,220.9 L285.3,221.0 L286.3,221.0 L287.2,221.1 L288.2,221.1 L289.2,221.1 L290.2,221.2 L291.2,221.2 L292.2,221.3 L293.2,221.3 L294.1,221.4 L295.1,221.4 L296.1,221.4 L297.1,221.5 L298.1,221.5 L299.1,221.6 L300.0,221.6 L301.0,221.6 L302.0,221.7 L303.0,221.7 L304.0,221.8 L305.0,221.8 L306.0,221.8 L306.9,221.9 L307.9,221.9 L308.9,221.9 L309.9,222.0 L310.9,222.0 L311.9,222.1 L312.9,222.1 L313.8,222.1 L314.8,222.2 L315.8,222.2 L316.8,222.2 L317.8,222.3 L318.8,222.3 L319.7,222.3 L320.7,222.4 L321.7,222.4 L322.7,222.4 L323.7,222.5 L324.7,222.5 L325.7,222.5 L326.6,222.5 L327.6,222.6 L328.6,222.6 L329.6,222.6 L330.6,222.7 L331.6,222.7 L332.6,222.7 L333.5,222.8 L334.5,222.8 L335.5,222.8 L336.5,222.8 L337.5,222.9 L338.5,222.9 L339.4,222.9 L340.4,223.0 L341.4,223.0 L342.4,223.0 L343.4,223.0 L344.4,223.1 L345.4,223.1 L346.3,223.1 L347.3,223.1 L348.3,223.2 L349.3,223.2" fill="none" stroke="#ff8000" stroke-width="1.35" stroke-dasharray="3 1.3" stroke-dashoffset="1.1" stroke-linejoin="round"/>
<path d="M22.7,227.5 L23.0,227.5 L23.2,227.5 L23.5,227.5 L23.8,227.5 L24.0,227.5 L24.3,227.5 L24.5,227.5 L24.8,227.5 L25.1,227.5 L25.3,227.5 L25.6,227.5 L25.8,227.5 L26.1,227.5 L26.4,227.5 L26.6,227.5 L26.9,227.5 L27.2,227.5 L27.4,227.5 L27.7,227.5 L27.9,227.5 L28.2,227.5 L28.5,227.5 L28.7,227.5 L29.0,227.5 L29.3,227.5 L29.5,227.5 L29.8,227.5 L30.0,227.5 L30.3,227.5 L30.6,227.5 L30.8,227.5 L31.1,227.5 L31.3,227.5 L31.6,227.5 L31.9,227.5 L32.1,227.5 L32.4,227.5 L32.7,227.5 L32.9,227.5 L33.2,227.5 L33.4,227.5 L33.7,227.5 L34.0,227.5 L34.2,227.5 L34.5,227.5 L34.7,227.5 L35.0,227.5 L35.3,227.5 L35.5,227.5 L35.8,227.5 L36.1,227.5 L36.3,227.5 L36.6,227.5 L36.8,227.5 L37.1,227.5 L37.4,227.5 L37.6,227.5 L37.9,227.5 L38.1,227.5 L38.4,227.5 L38.7,227.5 L38.9,227.5 L39.2,227.5 L39.5,227.5 L39.7,227.5 L40.0,227.5 L40.2,227.5 L40.5,227.5 L40.8,227.5 L41.0,227.5 L41.3,227.5 L41.5,227.5 L41.8,227.5 L42.1,227.5 L42.3,227.5 L42.6,227.5 L42.9,227.5 L43.1,227.5 L43.4,227.5 L43.6,227.5 L43.9,227.5 L44.2,227.5 L44.4,227.5 L44.7,227.5 L45.0,227.5 L45.2,227.5 L45.5,227.5 L45.7,227.5 L46.0,227.5 L46.3,227.5 L46.5,227.5 L46.8,227.5 L47.0,227.5 L47.3,227.5 L47.6,227.5 L47.8,227.5 L48.1,227.5 L48.4,227.5 L48.6,227.5 L48.9,227.5 L49.1,227.5 L49.4,227.5 L49.7,227.5 L49.9,227.5 L50.2,227.5 L50.4,227.5 L50.7,227.5 L51.0,227.5 L51.2,227.5 L51.5,227.5 L51.8,227.5 L52.0,227.5 L52.3,227.5 L52.5,227.4 L52.8,227.4 L53.1,227.4 L53.3,227.4 L53.6,227.4 L53.8,227.4 L54.1,227.4 L54.4,227.4 L54.6,227.4 L54.9,227.4 L55.2,227.4 L55.4,227.4 L55.7,227.4 L55.9,227.3 L56.2,227.3 L56.5,227.3 L56.7,227.3 L57.0,227.3 L57.2,227.3 L57.5,227.3 L57.8,227.3 L58.0,227.2 L58.3,227.2 L58.6,227.2 L58.8,227.2 L59.1,227.2 L59.3,227.1 L59.6,227.1 L59.9,227.1 L60.1,227.1 L60.4,227.1 L60.7,227.0 L60.9,227.0 L61.2,227.0 L61.4,227.0 L61.7,226.9 L62.0,226.9 L62.2,226.9 L62.5,226.9 L62.7,226.8 L63.0,226.8 L63.3,226.8 L63.5,226.7 L63.8,226.7 L64.1,226.7 L64.3,226.6 L64.6,226.6 L64.8,226.6 L65.1,226.5 L65.4,226.5 L65.6,226.4 L65.9,226.4 L66.1,226.4 L66.4,226.3 L66.7,226.3 L66.9,226.2 L67.2,226.2 L67.5,226.1 L67.7,226.1 L68.0,226.1 L68.2,226.0 L68.5,226.0 L68.8,225.9 L69.0,225.9 L69.3,225.8 L69.5,225.8 L69.8,225.7 L70.1,225.7 L70.3,225.6 L70.6,225.5 L70.9,225.5 L71.1,225.4 L71.4,225.4 L71.6,225.3 L71.9,225.3 L72.2,225.2 L72.4,225.2 L72.7,225.1 L72.9,225.0 L73.2,225.0 L73.5,224.9 L73.7,224.9 L74.0,224.8 L74.3,224.7 L74.5,224.7 L74.8,224.6 L75.0,224.5 L75.3,224.5 L75.6,224.4 L75.8,224.3 L76.1,224.3 L76.4,224.2 L76.6,224.2 L76.9,224.1 L77.1,224.0 L77.4,224.0 L77.7,223.9 L77.9,223.8 L78.2,223.8 L78.4,223.7 L78.7,223.6 L79.0,223.5 L79.2,223.5 L79.5,223.4 L79.8,223.3 L80.0,223.3 L80.3,223.2 L80.5,223.1 L80.8,223.1 L81.1,223.0 L81.3,222.9 L81.6,222.9 L81.8,222.8 L82.1,222.7 L82.4,222.7 L82.6,222.6 L82.9,222.5 L83.2,222.4 L83.4,222.4 L83.7,222.3 L83.9,222.2 L84.2,222.2 L84.5,222.1 L84.7,222.0 L85.0,222.0 L85.2,221.9 L85.5,221.8 L85.8,221.8 L86.0,221.7 L86.3,221.6 L86.6,221.5 L86.8,221.5 L87.1,221.4 L87.3,221.3 L87.6,221.3 L87.9,221.2 L88.1,221.1 L88.4,221.1 L88.6,221.0 L88.9,220.9 L89.2,220.9 L89.4,220.8 L89.7,220.7 L90.0,220.7 L90.2,220.6 L90.5,220.6 L90.7,220.5 L91.0,220.4 L91.3,220.4 L91.5,220.3 L91.8,220.2 L92.1,220.2 L92.3,220.1 L92.6,220.0 L92.8,220.0 L93.1,219.9 L93.4,219.9 L93.6,219.8 L93.9,219.7 L94.1,219.7 L94.4,219.6 L94.7,219.6 L94.9,219.5 L95.2,219.5 L95.5,219.4 L95.7,219.3 L96.0,219.3 L96.2,219.2 L96.5,219.2 L96.8,219.1 L97.0,219.1 L97.3,219.0 L97.5,219.0 L97.8,218.9 L98.1,218.9 L98.3,218.8 L98.6,218.8 L98.9,218.7 L99.1,218.6 L99.4,218.6 L99.6,218.6 L99.9,218.5 L100.2,218.5 L100.4,218.4 L100.7,218.4 L100.9,218.3 L101.2,218.3 L101.5,218.2 L101.7,218.2 L102.0,218.1 L102.3,218.1 L102.5,218.0 L102.8,218.0 L103.0,218.0 L103.3,217.9 L103.6,217.9 L103.8,217.8 L104.1,217.8 L104.3,217.7 L104.6,217.7 L104.9,217.7 L105.1,217.6 L105.4,217.6 L105.7,217.6 L105.9,217.5 L106.2,217.5 L106.4,217.4 L106.7,217.4 L107.0,217.4 L107.2,217.3 L107.5,217.3 L107.8,217.3 L108.0,217.2 L108.3,217.2 L108.5,217.2 L108.8,217.1 L109.1,217.1 L109.3,217.1 L109.6,217.1 L109.8,217.0 L110.1,217.0 L110.4,217.0 L110.6,216.9 L110.9,216.9 L111.2,216.9 L111.4,216.9 L111.7,216.8 L111.9,216.8 L112.2,216.8 L112.5,216.8 L112.7,216.7 L113.0,216.7 L113.2,216.7 L113.5,216.7 L113.8,216.6 L114.0,216.6 L114.3,216.6 L114.6,216.6 L114.8,216.6 L115.1,216.5 L115.3,216.5 L115.6,216.5 L115.9,216.5 L116.1,216.5 L116.4,216.5 L116.6,216.4 L116.9,216.4 L117.2,216.4 L117.4,216.4 L117.7,216.4 L118.0,216.4 L118.2,216.3 L118.5,216.3 L118.7,216.3 L119.0,216.3 L119.3,216.3 L119.5,216.3 L119.8,216.3 L120.0,216.3 L120.3,216.2 L120.6,216.2 L120.8,216.2 L121.1,216.2 L121.4,216.2 L121.6,216.2 L121.9,216.2 L122.1,216.2 L122.4,216.2 L122.7,216.2 L122.9,216.2 L123.2,216.1 L123.5,216.1 L123.7,216.1 L124.0,216.1 L124.2,216.1 L124.5,216.1 L124.8,216.1 L125.0,216.1 L125.3,216.1 L125.5,216.1 L125.8,216.1 L126.1,216.1 L126.3,216.1 L126.6,216.1 L126.9,216.1 L127.1,216.1 L127.4,216.1 L127.6,216.1 L127.9,216.1 L128.2,216.1 L128.4,216.1 L128.7,216.1 L128.9,216.1 L129.2,216.1 L129.5,216.1 L129.7,216.1 L130.0,216.1 L130.3,216.1 L130.5,216.1 L130.8,216.1 L131.0,216.1 L131.3,216.1 L131.6,216.1 L131.8,216.1 L132.1,216.1 L132.3,216.1 L132.6,216.1 L132.9,216.1 L133.1,216.1 L133.4,216.2 L133.7,216.2 L133.9,216.2 L134.2,216.2 L134.4,216.2 L134.7,216.2 L135.0,216.2 L135.2,216.2 L135.5,216.2 L135.7,216.2 L136.0,216.2 L136.3,216.2 L136.5,216.2 L136.8,216.2 L137.1,216.3 L137.3,216.3 L137.6,216.3 L137.8,216.3 L138.1,216.3 L138.4,216.3 L138.6,216.3 L138.9,216.3 L139.2,216.3 L139.4,216.4 L139.7,216.4 L139.9,216.4 L140.2,216.4 L140.5,216.4 L140.7,216.4 L141.0,216.4 L141.2,216.4 L141.5,216.4 L141.8,216.5 L142.0,216.5 L142.3,216.5 L142.6,216.5 L142.8,216.5 L143.1,216.5 L143.3,216.5 L143.6,216.6 L143.9,216.6 L144.1,216.6 L144.4,216.6 L144.6,216.6 L144.9,216.6 L145.2,216.6 L145.4,216.7 L145.7,216.7 L146.0,216.7 L146.2,216.7 L146.5,216.7 L146.7,216.7 L147.0,216.7 L147.3,216.8 L147.5,216.8 L147.8,216.8 L148.0,216.8 L148.3,216.8 L148.6,216.8 L148.8,216.9 L149.1,216.9 L149.4,216.9 L149.6,216.9 L149.9,216.9 L150.1,216.9 L150.4,217.0 L150.7,217.0 L150.9,217.0 L151.2,217.0 L151.4,217.0 L151.7,217.1 L152.0,217.1 L152.2,217.1 L152.5,217.1 L152.8,217.1 L153.0,217.1 L153.3,217.2 L154.3,217.2 L155.3,217.3 L156.2,217.4 L157.2,217.5 L158.2,217.5 L159.2,217.6 L160.2,217.7 L161.2,217.8 L162.1,217.8 L163.1,217.9 L164.1,218.0 L165.1,218.1 L166.1,218.1 L167.1,218.2 L168.1,218.3 L169.0,218.4 L170.0,218.5 L171.0,218.6 L172.0,218.6 L173.0,218.7 L174.0,218.8 L175.0,218.9 L175.9,219.0 L176.9,219.0 L177.9,219.1 L178.9,219.2 L179.9,219.3 L180.9,219.4 L181.8,219.4 L182.8,219.5 L183.8,219.6 L184.8,219.7 L185.8,219.8 L186.8,219.8 L187.8,219.9 L188.7,220.0 L189.7,220.1 L190.7,220.1 L191.7,220.2 L192.7,220.3 L193.7,220.4 L194.7,220.4 L195.6,220.5 L196.6,220.6 L197.6,220.7 L198.6,220.7 L199.6,220.8 L200.6,220.9 L201.5,220.9 L202.5,221.0 L203.5,221.1 L204.5,221.2 L205.5,221.2 L206.5,221.3 L207.5,221.4 L208.4,221.4 L209.4,221.5 L210.4,221.6 L211.4,221.6 L212.4,221.7 L213.4,221.8 L214.4,221.8 L215.3,221.9 L216.3,221.9 L217.3,222.0 L218.3,222.1 L219.3,222.1 L220.3,222.2 L221.2,222.2 L222.2,222.3 L223.2,222.4 L224.2,222.4 L225.2,222.5 L226.2,222.5 L227.2,222.6 L228.1,222.6 L229.1,222.7 L230.1,222.7 L231.1,222.8 L232.1,222.9 L233.1,222.9 L234.1,223.0 L235.0,223.0 L236.0,223.1 L237.0,223.1 L238.0,223.2 L239.0,223.2 L240.0,223.2 L240.9,223.3 L241.9,223.3 L242.9,223.4 L243.9,223.4 L244.9,223.5 L245.9,223.5 L246.9,223.6 L247.8,223.6 L248.8,223.7 L249.8,223.7 L250.8,223.7 L251.8,223.8 L252.8,223.8 L253.8,223.9 L254.7,223.9 L255.7,223.9 L256.7,224.0 L257.7,224.0 L258.7,224.1 L259.7,224.1 L260.6,224.1 L261.6,224.2 L262.6,224.2 L263.6,224.2 L264.6,224.3 L265.6,224.3 L266.6,224.4 L267.5,224.4 L268.5,224.4 L269.5,224.5 L270.5,224.5 L271.5,224.5 L272.5,224.6 L273.5,224.6 L274.4,224.6 L275.4,224.6 L276.4,224.7 L277.4,224.7 L278.4,224.7 L279.4,224.8 L280.3,224.8 L281.3,224.8 L282.3,224.9 L283.3,224.9 L284.3,224.9 L285.3,224.9 L286.3,225.0 L287.2,225.0 L288.2,225.0 L289.2,225.0 L290.2,225.1 L291.2,225.1 L292.2,225.1 L293.2,225.2 L294.1,225.2 L295.1,225.2 L296.1,225.2 L297.1,225.2 L298.1,225.3 L299.1,225.3 L300.0,225.3 L301.0,225.3 L302.0,225.4 L303.0,225.4 L304.0,225.4 L305.0,225.4 L306.0,225.5 L306.9,225.5 L307.9,225.5 L308.9,225.5 L309.9,225.5 L310.9,225.6 L311.9,225.6 L312.9,225.6 L313.8,225.6 L314.8,225.6 L315.8,225.7 L316.8,225.7 L317.8,225.7 L318.8,225.7 L319.7,225.7 L320.7,225.7 L321.7,225.8 L322.7,225.8 L323.7,225.8 L324.7,225.8 L325.7,225.8 L326.6,225.9 L327.6,225.9 L328.6,225.9 L329.6,225.9 L330.6,225.9 L331.6,225.9 L332.6,225.9 L333.5,226.0 L334.5,226.0 L335.5,226.0 L336.5,226.0 L337.5,226.0 L338.5,226.0 L339.4,226.1 L340.4,226.1 L341.4,226.1 L342.4,226.1 L343.4,226.1 L344.4,226.1 L345.4,226.1 L346.3,226.1 L347.3,226.2 L348.3,226.2 L349.3,226.2" fill="none" stroke="#ff00ff" stroke-width="1.35" stroke-linejoin="round"/>
<path d="M60.1,227.1 L60.4,227.1 L60.7,227.0 L60.9,227.0 L61.2,227.0 L61.4,227.0 L61.7,226.9 L62.0,226.9 L62.2,226.9 L62.5,226.9 L62.7,226.8 L63.0,226.8 L63.3,226.8 L63.5,226.7 L63.8,226.7 L64.1,226.7 L64.3,226.6 L64.6,226.6 L64.8,226.6 L65.1,226.5 L65.4,226.5 L65.6,226.4 L65.9,226.4 L66.1,226.4 L66.4,226.3 L66.7,226.3 L66.9,226.2 L67.2,226.2 L67.5,226.1 L67.7,226.1 L68.0,226.1 L68.2,226.0 L68.5,226.0 L68.8,225.9 L69.0,225.9 L69.3,225.8 L69.5,225.8 L69.8,225.7 L70.1,225.7 L70.3,225.6 L70.6,225.5 L70.9,225.5 L71.1,225.4 L71.4,225.4 L71.6,225.3 L71.9,225.3 L72.2,225.2 L72.4,225.2 L72.7,225.1 L72.9,225.0 L73.2,225.0 L73.5,224.9 L73.7,224.9 L74.0,224.8 L74.3,224.7 L74.5,224.7 L74.8,224.6 L75.0,224.5 L75.3,224.5 L75.6,224.4 L75.8,224.3 L76.1,224.3 L76.4,224.2 L76.6,224.1 L76.9,224.1 L77.1,224.0 L77.4,223.9 L77.7,223.9 L77.9,223.8 L78.2,223.7 L78.4,223.7 L78.7,223.6 L79.0,223.5 L79.2,223.5 L79.5,223.4 L79.8,223.3 L80.0,223.3 L80.3,223.2 L80.5,223.1 L80.8,223.1 L81.1,223.0 L81.3,222.9 L81.6,222.8 L81.8,222.8 L82.1,222.7 L82.4,222.6 L82.6,222.6 L82.9,222.5 L83.2,222.4 L83.4,222.4 L83.7,222.3 L83.9,222.2 L84.2,222.1 L84.5,222.1 L84.7,222.0 L85.0,221.9 L85.2,221.9 L85.5,221.8 L85.8,221.7 L86.0,221.7 L86.3,221.6 L86.6,221.5 L86.8,221.4 L87.1,221.4 L87.3,221.3 L87.6,221.2 L87.9,221.2 L88.1,221.1 L88.4,221.0 L88.6,221.0 L88.9,220.9 L89.2,220.8 L89.4,220.8 L89.7,220.7 L90.0,220.6 L90.2,220.6 L90.5,220.5 L90.7,220.4 L91.0,220.4 L91.3,220.3 L91.5,220.2 L91.8,220.2 L92.1,220.1 L92.3,220.1 L92.6,220.0 L92.8,219.9 L93.1,219.9 L93.4,219.8 L93.6,219.7 L93.9,219.7 L94.1,219.6 L94.4,219.6 L94.7,219.5 L94.9,219.4 L95.2,219.4 L95.5,219.3 L95.7,219.3 L96.0,219.2 L96.2,219.1 L96.5,219.1 L96.8,219.0 L97.0,219.0 L97.3,218.9 L97.5,218.9 L97.8,218.8 L98.1,218.7 L98.3,218.7 L98.6,218.6 L98.9,218.6 L99.1,218.5 L99.4,218.5 L99.6,218.4 L99.9,218.4 L100.2,218.3 L100.4,218.3 L100.7,218.2 L100.9,218.2 L101.2,218.1 L101.5,218.1 L101.7,218.0 L102.0,218.0 L102.3,217.9 L102.5,217.9 L102.8,217.8 L103.0,217.8 L103.3,217.7 L103.6,217.7 L103.8,217.6 L104.1,217.6 L104.3,217.6 L104.6,217.5 L104.9,217.5 L105.1,217.4 L105.4,217.4 L105.7,217.3 L105.9,217.3 L106.2,217.3 L106.4,217.2 L106.7,217.2 L107.0,217.1 L107.2,217.1 L107.5,217.1 L107.8,217.0 L108.0,217.0 L108.3,217.0 L108.5,216.9 L108.8,216.9 L109.1,216.8 L109.3,216.8 L109.6,216.8 L109.8,216.7 L110.1,216.7 L110.4,216.7 L110.6,216.6 L110.9,216.6 L111.2,216.6 L111.4,216.5 L111.7,216.5 L111.9,216.5 L112.2,216.4 L112.5,216.4 L112.7,216.4 L113.0,216.4 L113.2,216.3 L113.5,216.3 L113.8,216.3 L114.0,216.2 L114.3,216.2 L114.6,216.2 L114.8,216.2 L115.1,216.1 L115.3,216.1 L115.6,216.1 L115.9,216.1 L116.1,216.0 L116.4,216.0 L116.6,216.0 L116.9,216.0 L117.2,215.9 L117.4,215.9 L117.7,215.9 L118.0,215.9 L118.2,215.9 L118.5,215.8 L118.7,215.8 L119.0,215.8 L119.3,215.8 L119.5,215.8 L119.8,215.7 L120.0,215.7 L120.3,215.7 L120.6,215.7 L120.8,215.7 L121.1,215.7 L121.4,215.6 L121.6,215.6 L121.9,215.6 L122.1,215.6 L122.4,215.6 L122.7,215.6 L122.9,215.5 L123.2,215.5 L123.5,215.5 L123.7,215.5 L124.0,215.5 L124.2,215.5 L124.5,215.5 L124.8,215.5 L125.0,215.4 L125.3,215.4 L125.5,215.4 L125.8,215.4 L126.1,215.4 L126.3,215.4 L126.6,215.4 L126.9,215.4 L127.1,215.4 L127.4,215.4 L127.6,215.3 L127.9,215.3 L128.2,215.3 L128.4,215.3 L128.7,215.3 L128.9,215.3 L129.2,215.3 L129.5,215.3 L129.7,215.3 L130.0,215.3 L130.3,215.3 L130.5,215.3 L130.8,215.3 L131.0,215.3 L131.3,215.3 L131.6,215.3 L131.8,215.2 L132.1,215.2 L132.3,215.2 L132.6,215.2 L132.9,215.2 L133.1,215.2 L133.4,215.2 L133.7,215.2 L133.9,215.2 L134.2,215.2 L134.4,215.2 L134.7,215.2 L135.0,215.2 L135.2,215.2 L135.5,215.2 L135.7,215.2 L136.0,215.2 L136.3,215.2 L136.5,215.2 L136.8,215.2 L137.1,215.2 L137.3,215.2 L137.6,215.2 L137.8,215.2 L138.1,215.2 L138.4,215.2 L138.6,215.2 L138.9,215.2 L139.2,215.2 L139.4,215.2 L139.7,215.2 L139.9,215.2 L140.2,215.2 L140.5,215.2 L140.7,215.2 L141.0,215.2 L141.2,215.2 L141.5,215.3 L141.8,215.3 L142.0,215.3 L142.3,215.3 L142.6,215.3 L142.8,215.3 L143.1,215.3 L143.3,215.3 L143.6,215.3 L143.9,215.3 L144.1,215.3 L144.4,215.3 L144.6,215.3 L144.9,215.3 L145.2,215.3 L145.4,215.3 L145.7,215.3 L146.0,215.3 L146.2,215.3 L146.5,215.4 L146.7,215.4 L147.0,215.4 L147.3,215.4 L147.5,215.4 L147.8,215.4 L148.0,215.4 L148.3,215.4 L148.6,215.4 L148.8,215.4 L149.1,215.4 L149.4,215.4 L149.6,215.4 L149.9,215.5 L150.1,215.5 L150.4,215.5 L150.7,215.5 L150.9,215.5 L151.2,215.5 L151.4,215.5 L151.7,215.5 L152.0,215.5 L152.2,215.5 L152.5,215.5 L152.8,215.6 L153.0,215.6 L153.3,215.6 L154.3,215.6 L155.3,215.7 L156.2,215.7 L157.2,215.7 L158.2,215.8 L159.2,215.8 L160.2,215.9 L161.2,215.9 L162.1,216.0 L163.1,216.0 L164.1,216.1 L165.1,216.1 L166.1,216.2 L167.1,216.2 L168.1,216.3 L169.0,216.3 L170.0,216.4 L171.0,216.4 L172.0,216.5 L173.0,216.5 L174.0,216.6 L175.0,216.6 L175.9,216.7 L176.9,216.8 L177.9,216.8 L178.9,216.9 L179.9,216.9 L180.9,217.0 L181.8,217.0 L182.8,217.1 L183.8,217.2 L184.8,217.2 L185.8,217.3 L186.8,217.3 L187.8,217.4 L188.7,217.4 L189.7,217.5 L190.7,217.6 L191.7,217.6 L192.7,217.7 L193.7,217.7 L194.7,217.8 L195.6,217.8 L196.6,217.9 L197.6,218.0 L198.6,218.0 L199.6,218.1 L200.6,218.1 L201.5,218.2 L202.5,218.2 L203.5,218.3 L204.5,218.4 L205.5,218.4 L206.5,218.5 L207.5,218.5 L208.4,218.6 L209.4,218.6 L210.4,218.7 L211.4,218.7 L212.4,218.8 L213.4,218.8 L214.4,218.9 L215.3,219.0 L216.3,219.0 L217.3,219.1 L218.3,219.1 L219.3,219.2 L220.3,219.2 L221.2,219.3 L222.2,219.3 L223.2,219.4 L224.2,219.4 L225.2,219.5 L226.2,219.5 L227.2,219.6 L228.1,219.6 L229.1,219.7 L230.1,219.7 L231.1,219.8 L232.1,219.8 L233.1,219.9 L234.1,219.9 L235.0,220.0 L236.0,220.0 L237.0,220.1 L238.0,220.1 L239.0,220.1 L240.0,220.2 L240.9,220.2 L241.9,220.3 L242.9,220.3 L243.9,220.4 L244.9,220.4 L245.9,220.5 L246.9,220.5 L247.8,220.5 L248.8,220.6 L249.8,220.6 L250.8,220.7 L251.8,220.7 L252.8,220.8 L253.8,220.8 L254.7,220.8 L255.7,220.9 L256.7,220.9 L257.7,221.0 L258.7,221.0 L259.7,221.0 L260.6,221.1 L261.6,221.1 L262.6,221.2 L263.6,221.2 L264.6,221.2 L265.6,221.3 L266.6,221.3 L267.5,221.3 L268.5,221.4 L269.5,221.4 L270.5,221.5 L271.5,221.5 L272.5,221.5 L273.5,221.6 L274.4,221.6 L275.4,221.6 L276.4,221.7 L277.4,221.7 L278.4,221.7 L279.4,221.8 L280.3,221.8 L281.3,221.8 L282.3,221.9 L283.3,221.9 L284.3,221.9 L285.3,222.0 L286.3,222.0 L287.2,222.0 L288.2,222.1 L289.2,222.1 L290.2,222.1 L291.2,222.2 L292.2,222.2 L293.2,222.2 L294.1,222.2 L295.1,222.3 L296.1,222.3 L297.1,222.3 L298.1,222.4 L299.1,222.4 L300.0,222.4 L301.0,222.5 L302.0,222.5 L303.0,222.5 L304.0,222.5 L305.0,222.6 L306.0,222.6 L306.9,222.6 L307.9,222.7 L308.9,222.7 L309.9,222.7 L310.9,222.7 L311.9,222.8 L312.9,222.8 L313.8,222.8 L314.8,222.8 L315.8,222.9 L316.8,222.9 L317.8,222.9 L318.8,222.9 L319.7,223.0 L320.7,223.0 L321.7,223.0 L322.7,223.0 L323.7,223.1 L324.7,223.1 L325.7,223.1 L326.6,223.1 L327.6,223.2 L328.6,223.2 L329.6,223.2 L330.6,223.2 L331.6,223.2 L332.6,223.3 L333.5,223.3 L334.5,223.3 L335.5,223.3 L336.5,223.4 L337.5,223.4 L338.5,223.4 L339.4,223.4 L340.4,223.4 L341.4,223.5 L342.4,223.5 L343.4,223.5 L344.4,223.5 L345.4,223.6 L346.3,223.6 L347.3,223.6 L348.3,223.6 L349.3,223.6" fill="none" stroke="#ff00ff" stroke-width="1.35" stroke-dasharray="3 1.3" stroke-dashoffset="0" stroke-linejoin="round"/>
</g>
<line x1="84.50" y1="62.80" x2="47.83" y2="84.98" stroke="#000" stroke-width="1.40"/><path d="M42.00,88.50 L46.47,81.59 L47.83,84.98 L50.20,87.75 Z" fill="#000"/><line x1="99.50" y1="61.80" x2="77.76" y2="85.94" stroke="#000" stroke-width="1.40"/><path d="M73.20,91.00 L75.48,83.09 L77.76,85.94 L80.83,87.91 Z" fill="#000"/><line x1="129.60" y1="155.20" x2="110.75" y2="180.63" stroke="#000" stroke-width="1.40"/><path d="M106.70,186.10 L108.21,178.01 L110.75,180.63 L114.00,182.30 Z" fill="#000"/><line x1="134.30" y1="156.10" x2="122.06" y2="196.88" stroke="#000" stroke-width="1.40"/><path d="M120.10,203.40 L118.78,195.28 L122.06,196.88 L125.68,197.35 Z" fill="#000"/><line x1="216.30" y1="197.00" x2="207.08" y2="210.30" stroke="#000" stroke-width="1.40"/><path d="M203.20,215.90 L204.46,207.77 L207.08,210.30 L210.37,211.87 Z" fill="#000"/><line x1="223.40" y1="197.00" x2="222.97" y2="214.79" stroke="#000" stroke-width="1.40"/><path d="M222.80,221.60 L219.38,214.11 L222.97,214.79 L226.58,214.29 Z" fill="#000"/>
<g class="lab"><text transform="translate(52.56,245.20) scale(1,1.000)" x="0.00 12.10 16.20" style="font-size:21.6px">0.2</text><text transform="translate(96.12,245.20) scale(1,1.000)" x="0.00 12.10 16.20" style="font-size:21.6px">0.4</text><text transform="translate(139.68,245.20) scale(1,1.000)" x="0.00 12.10 16.20" style="font-size:21.6px">0.6</text><text transform="translate(183.24,245.20) scale(1,1.000)" x="0.00 12.10 16.20" style="font-size:21.6px">0.8</text><text transform="translate(227.12,245.20) scale(1,1.000)" x="0.65 11.45 15.55" style="font-size:21.6px">1.0</text><text transform="translate(270.68,245.20) scale(1,1.000)" x="0.65 11.45 15.55" style="font-size:21.6px">1.2</text><text transform="translate(314.24,245.20) scale(1,1.000)" x="0.65 11.45 15.55" style="font-size:21.6px">1.4</text><text transform="translate(10.80,183.15) scale(1,1.030)" x="0.00" style="font-size:20.8px">5</text><text transform="translate(1.02,132.80) scale(1,1.030)" x="0.62 9.78" style="font-size:20.8px">10</text><text transform="translate(1.02,82.45) scale(1,1.030)" x="0.62 9.78" style="font-size:20.8px">15</text><text transform="translate(0.40,32.10) scale(1,1.030)" x="0.00 10.40" style="font-size:20.8px">20</text><text x="71.10" y="56.30" style="font-size:19.8px">Δ</text><text transform="translate(87.87,56.30) scale(1.14,1)" style="font-size:19.8px">=</text><text transform="translate(103.65,56.70) scale(1,1.020)" x="0.00 11.09 14.85" style="font-size:19.8px">0.5</text><text x="110.40" y="149.60" style="font-size:19.8px">Δ</text><text transform="translate(127.07,149.60) scale(1.14,1)" style="font-size:19.8px">=</text><text transform="translate(144.46,150.00) scale(1,1.020)" x="0.59 10.49 14.26" style="font-size:19.8px">1.0</text><text x="190.40" y="193.60" style="font-size:19.8px">Δ</text><text transform="translate(207.07,193.60) scale(1.14,1)" style="font-size:19.8px">=</text><text transform="translate(223.53,194.00) scale(1,1.020)" x="0.00 11.09 14.85" style="font-size:19.8px">2.0</text><text x="359.8" y="233.5" style="font-style:italic;font-size:21.8px">T</text></g>
<g fill="none" stroke="#000" stroke-linecap="round" stroke-linejoin="round"><path d="M16.3,4.0 C16.7,2.5 17.9,1.4 19.5,1.7 C22.3,2.3 24.9,4.3 27.1,3.6 C27.9,3.3 28.5,2.9 28.9,2.5" stroke-width="1.5"/><path d="M17.6,2.2 C19.2,1.6 21.5,2.5 24.2,3.4" stroke-width="1.9"/><path d="M21.75,3.0 C21.4,6.5 20.9,10.5 20.2,13.6 C19.9,14.8 19.6,15.5 19.0,16.1" stroke-width="1.9"/><path d="M19.6,15.0 C19.0,16.4 18.2,17.0 17.0,17.4" stroke-width="1.2"/><path d="M18.2,9 L27,8.1" stroke-width="1.35"/></g>
</svg>
</body></html>
